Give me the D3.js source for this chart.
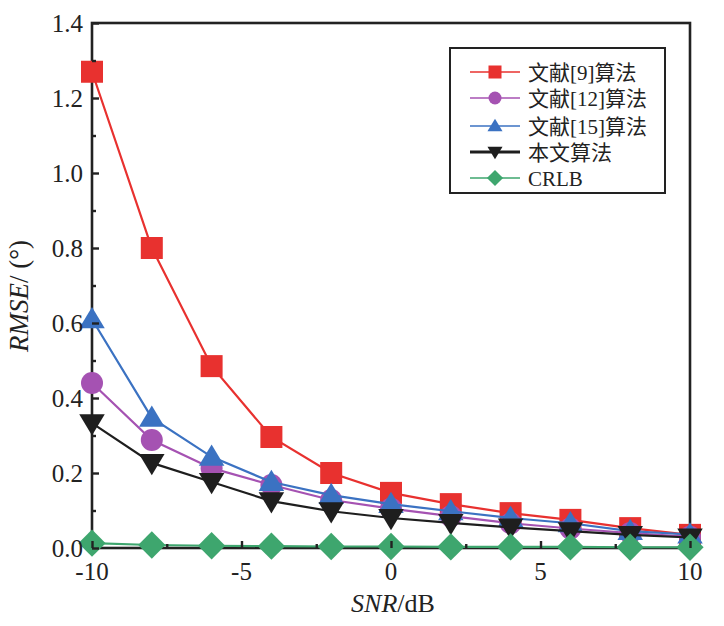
<!DOCTYPE html>
<html lang="zh">
<head>
<meta charset="UTF-8">
<title>RMSE vs SNR</title>
<script src="https://d3js.org/d3.v7.min.js"></script>
<style>
  body { margin: 0; background: #fff; }
  svg text { font-family: "Liberation Serif", "DejaVu Serif", "Noto Sans CJK SC", serif; fill: #222; }
</style>
</head>
<body>
<div id="chart"></div>
<script>
// data
const snr = [-10, -8, -6, -4, -2, 0, 2, 4, 6, 8, 10];
const ref9 = [1.27, 0.80, 0.485, 0.296, 0.20, 0.147, 0.117, 0.093, 0.075, 0.053, 0.035];
const ref12 = [0.44, 0.288, 0.213, 0.168, 0.128, 0.105, 0.085, 0.066, 0.052, 0.040, 0.030];
const ref15 = [0.61, 0.347, 0.243, 0.176, 0.141, 0.117, 0.098, 0.080, 0.066, 0.045, 0.036];
const ours = [0.333, 0.227, 0.176, 0.125, 0.098, 0.080, 0.067, 0.055, 0.045, 0.035, 0.028];
const crlb = [0.013, 0.008, 0.006, 0.005, 0.004, 0.004, 0.003, 0.003, 0.003, 0.002, 0.002];
const seriesNames = ["文献[9]算法", "文献[12]算法", "文献[15]算法", "本文算法", "CRLB"];
const xTicks = [-10, -5, 0, 5, 10];
const yTicks = [0, 0.2, 0.4, 0.6, 0.8, 1.0, 1.2, 1.4];

const width = 724, height = 626;
const pLeft = 92, pRight = 690, pTop = 23, pBottom = 548;
const fontFam = '"Liberation Serif", "DejaVu Serif", "Noto Sans CJK SC", serif';

const svg = d3.select("#chart").append("svg")
    .attr("width", width).attr("height", height)
    .attr("font-family", fontFam);

const x = d3.scaleLinear().domain([-10, 10]).range([pLeft, pRight]);
const y = d3.scaleLinear().domain([0, 1.4]).range([pBottom, pTop]);

const series = [
  { name: seriesNames[0], vals: ref9, color: "#e8312f", shape: "square" },
  { name: seriesNames[1], vals: ref12, color: "#a552b2", shape: "circle" },
  { name: seriesNames[2], vals: ref15, color: "#3b72c2", shape: "up" },
  { name: seriesNames[3], vals: ours, color: "#1e1e1e", shape: "down" },
  { name: seriesNames[4], vals: crlb, color: "#3ea66e", shape: "diamond" }
];

function marker(g, shape, color, s) {
  if (shape === "square") {
    g.append("rect").attr("x", -s / 2).attr("y", -s / 2).attr("width", s).attr("height", s).attr("fill", color);
  } else if (shape === "circle") {
    g.append("circle").attr("r", s / 2).attr("fill", color);
  } else if (shape === "up") {
    const h = s * 0.9;
    g.append("path").attr("d", `M0,${-h * 0.62}L${s * 0.58},${h * 0.45}L${-s * 0.58},${h * 0.45}Z`).attr("fill", color);
  } else if (shape === "down") {
    const h = s * 0.9;
    g.append("path").attr("d", `M0,${h * 0.62}L${s * 0.58},${-h * 0.45}L${-s * 0.58},${-h * 0.45}Z`).attr("fill", color);
  } else {
    const r = s * 0.62;
    g.append("path").attr("d", `M0,${-r}L${r},0L0,${r}L${-r},0Z`).attr("fill", color);
  }
}

const line = d3.line().x(d => x(d[0])).y(d => y(d[1]));

// frame (drawn under the data, markers sit on top of the axes)
svg.append("rect")
  .attr("x", pLeft).attr("y", pTop)
  .attr("width", pRight - pLeft).attr("height", pBottom - pTop)
  .attr("fill", "none").attr("stroke", "#222").attr("stroke-width", 2.6);

const plot = svg.append("g");

// red at the bottom, CRLB on top
series.forEach(s => {
  const pts = snr.map((v, k) => [v, s.vals[k]]);
  plot.append("path").datum(pts)
    .attr("d", line)
    .attr("fill", "none")
    .attr("stroke", s.color)
    .attr("stroke-width", 2.2);
  pts.forEach(p => {
    const g = plot.append("g").attr("transform", `translate(${x(p[0])},${y(p[1])})`);
    marker(g, s.shape, s.color, 22);
  });
});

// y axis ticks (inside)
const yAxis = d3.axisRight(y).tickValues(yTicks).tickSize(7).tickFormat("");
svg.append("g").attr("transform", `translate(${pLeft},0)`).call(yAxis)
  .call(g => g.select(".domain").remove())
  .call(g => g.selectAll("line").attr("stroke", "#222").attr("stroke-width", 2.4));
const yMinor = d3.axisRight(y).tickValues(d3.range(0.1, 1.4, 0.2)).tickSize(4).tickFormat("");
svg.append("g").attr("transform", `translate(${pLeft},0)`).call(yMinor)
  .call(g => g.select(".domain").remove())
  .call(g => g.selectAll("line").attr("stroke", "#222").attr("stroke-width", 2.4));
svg.selectAll(".ylab").data(yTicks).enter().append("text")
  .attr("x", pLeft - 9).attr("y", d => y(d)).attr("dy", "0.35em")
  .attr("text-anchor", "end").attr("font-size", 25)
  .text(d => d.toFixed(1));

// x axis ticks (inside)
const xAxis = d3.axisTop(x).tickValues(xTicks).tickSize(7).tickFormat("");
svg.append("g").attr("transform", `translate(0,${pBottom})`).call(xAxis)
  .call(g => g.select(".domain").remove())
  .call(g => g.selectAll("line").attr("stroke", "#222").attr("stroke-width", 2.4));
const xMinor = d3.axisTop(x).tickValues([-7.5, -2.5, 2.5, 7.5]).tickSize(4).tickFormat("");
svg.append("g").attr("transform", `translate(0,${pBottom})`).call(xMinor)
  .call(g => g.select(".domain").remove())
  .call(g => g.selectAll("line").attr("stroke", "#222").attr("stroke-width", 2.4));
svg.selectAll(".xlab").data(xTicks).enter().append("text")
  .attr("x", d => x(d)).attr("y", pBottom + 32)
  .attr("text-anchor", "middle").attr("font-size", 25)
  .text(d => d);

// axis titles
const xt = svg.append("text").attr("x", 393).attr("y", 612)
  .attr("text-anchor", "middle").attr("font-size", 26);
xt.append("tspan").attr("font-style", "italic").text("SNR");
xt.append("tspan").text("/dB");

const yt = svg.append("text")
  .attr("transform", "translate(28,296) rotate(-90)")
  .attr("text-anchor", "middle").attr("font-size", 27);
yt.append("tspan").attr("font-style", "italic").text("RMSE");
yt.append("tspan").text("/ (°)");

// legend
const lg = svg.append("g");
lg.append("rect").attr("x", 450).attr("y", 48).attr("width", 215).attr("height", 145)
  .attr("fill", "#fff").attr("stroke", "#222").attr("stroke-width", 2);
const legY = [72, 98, 126, 152, 178];
series.forEach((s, i) => {
  const g = lg.append("g").attr("transform", `translate(495,${legY[i]})`);
  g.append("line").attr("x1", -25).attr("x2", 25)
    .attr("stroke", s.color).attr("stroke-width", i === 3 ? 3 : 2).attr("stroke-opacity", i === 3 ? 1 : 0.75);
  marker(g, s.shape, s.color, 13);
  lg.append("text").attr("x", 528).attr("y", legY[i]).attr("dy", "0.36em")
    .attr("font-size", 21).text(s.name);
});
</script>
</body>
</html>
